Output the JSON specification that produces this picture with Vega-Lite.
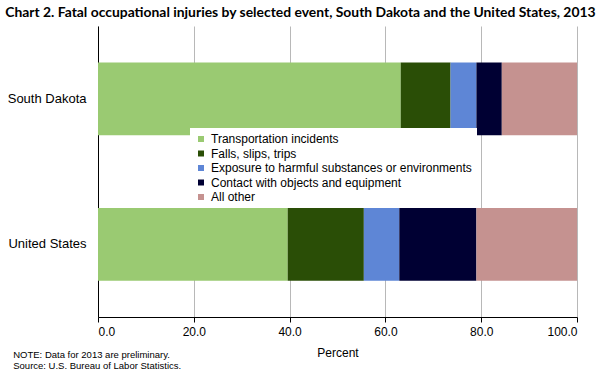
{
  "$schema": "https://vega.github.io/schema/vega-lite/v6.json",
  "padding": {"left": 5, "top": 6, "right": 5, "bottom": 2},
  "background": "white",
  "title": {
    "text": "Chart 2. Fatal occupational injuries by selected event, South Dakota and the United States, 2013",
    "anchor": "start",
    "frame": "bounds",
    "font": "Lato",
    "fontSize": 13.9,
    "fontWeight": "bold",
    "color": "black",
    "offset": 6,
    "dx": -2
  },
  "datasets": {
    "injuries": [
      {"area": "South Dakota", "event": "Transportation incidents", "ord": 1, "percent": 63.2},
      {"area": "South Dakota", "event": "Falls, slips, trips", "ord": 2, "percent": 10.4},
      {"area": "South Dakota", "event": "Exposure to harmful substances or environments", "ord": 3, "percent": 5.4},
      {"area": "South Dakota", "event": "Contact with objects and equipment", "ord": 4, "percent": 5.3},
      {"area": "South Dakota", "event": "All other", "ord": 5, "percent": 15.7},
      {"area": "United States", "event": "Transportation incidents", "ord": 1, "percent": 39.6},
      {"area": "United States", "event": "Falls, slips, trips", "ord": 2, "percent": 15.9},
      {"area": "United States", "event": "Exposure to harmful substances or environments", "ord": 3, "percent": 7.4},
      {"area": "United States", "event": "Contact with objects and equipment", "ord": 4, "percent": 16.1},
      {"area": "United States", "event": "All other", "ord": 5, "percent": 21.0}
    ]
  },
  "vconcat": [
    {
      "width": 479,
      "height": 291,
      "title": {
        "text": ["NOTE: Data for 2013 are preliminary.", "Source: U.S. Bureau of Labor Statistics."],
        "orient": "bottom",
        "anchor": "start",
        "frame": "bounds",
        "font": "Liberation Sans",
        "fontSize": 9.5,
        "fontWeight": "normal",
        "lineHeight": 10.5,
        "color": "black",
        "offset": -8,
        "dx": 6
      },
      "data": {"name": "injuries"},
      "mark": {"type": "bar"},
      "encoding": {
        "y": {
          "field": "area",
          "type": "nominal",
          "sort": null,
          "scale": {"paddingInner": 0.5, "paddingOuter": 0.25},
          "axis": {
            "title": null,
            "ticks": false,
            "domainColor": "black",
            "labelPadding": 12,
            "labelFontSize": 13,
            "labelFont": "Liberation Sans",
            "labelColor": "black",
            "grid": false
          }
        },
        "x": {
          "field": "percent",
          "type": "quantitative",
          "stack": "zero",
          "scale": {"domain": [0, 100], "nice": false},
          "axis": {
            "values": [0, 20, 40, 60, 80, 100],
            "format": ".1f",
            "grid": true,
            "gridColor": "#b8b8b8",
            "domainColor": "black",
            "tickColor": "black",
            "tickSize": 5,
            "labelFontSize": 12,
            "labelFont": "Liberation Sans",
            "labelColor": "black",
            "labelPadding": 4,
            "title": "Percent",
            "titleFont": "Liberation Sans",
            "titleFontSize": 12,
            "titleFontWeight": "normal",
            "titleColor": "black",
            "titlePadding": 10
          }
        },
        "color": {
          "field": "event",
          "type": "nominal",
          "scale": {
            "domain": ["Transportation incidents", "Falls, slips, trips", "Exposure to harmful substances or environments", "Contact with objects and equipment", "All other"],
            "range": ["#9aca72", "#2a4e06", "#5e86d6", "#000033", "#c59290"]
          },
          "legend": {
            "orient": "none",
            "legendX": 92,
            "legendY": 102,
            "title": null,
            "fillColor": "white",
            "padding": 5,
            "symbolType": "square",
            "symbolSize": 36,
            "symbolStrokeWidth": 0,
            "labelFont": "Liberation Sans",
            "labelFontSize": 12,
            "labelColor": "black",
            "labelLimit": 400,
            "rowPadding": 2.5,
            "symbolOffset": 0
          }
        },
        "order": {"field": "ord", "type": "quantitative"}
      }
    }
  ],
  "config": {
    "view": {"stroke": null},
    "axis": {"domainWidth": 1}
  }
}
